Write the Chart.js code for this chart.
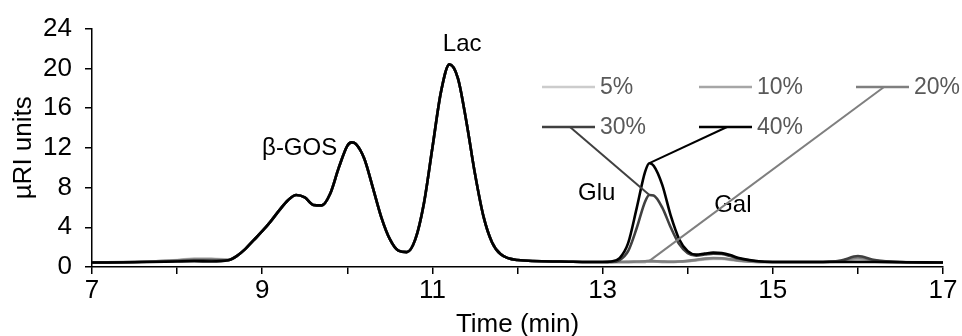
<!DOCTYPE html>
<html>
<head>
<meta charset="utf-8">
<script src="https://cdn.jsdelivr.net/npm/chart.js@4/dist/chart.umd.min.js"></script>
<style>
  html, body { margin: 0; padding: 0; background: #ffffff; }
  #wrap { width: 962px; height: 336px; }
</style>
</head>
<body>
<div id="wrap"><canvas id="chart" width="962" height="336"></canvas></div>
<script>
// Retention time grid (min)
const times = [
  7.0, 7.5, 8.0, 8.2, 8.4, 8.6, 8.7, 8.8, 8.9,
  9.0, 9.1, 9.2, 9.3, 9.4, 9.5, 9.6, 9.7, 9.8, 9.9,
  10.0, 10.05, 10.1, 10.2, 10.3, 10.4, 10.5, 10.6, 10.7, 10.8, 10.9,
  11.0, 11.1, 11.2, 11.3, 11.4, 11.5, 11.6, 11.7, 11.8, 12.0, 12.5,
  13.0, 13.1, 13.2, 13.3, 13.4, 13.5, 13.55, 13.6, 13.7, 13.8, 13.9,
  14.0, 14.1, 14.2, 14.3, 14.4, 14.5, 14.6, 14.8, 15.0, 15.5, 15.8, 16.0, 16.2, 16.5, 17.0
];

// β-GOS and lactose region (9.0 – 12.5 min), common to every run
const gosLacRegion = [
  3.6, 4.6, 5.7, 6.7, 7.25, 7.0, 6.25, 6.2, 7.4, 10.0,
  12.2, 12.55, 12.4, 10.9, 8.0, 5.0, 2.8, 1.65, 1.5, 2.8, 6.4,
  12.0, 17.6, 20.4, 19.0, 14.6, 9.4, 5.1, 2.5, 1.3, 0.7, 0.55
];

// Early baseline (7.0 – 8.9 min) per run
const lead5  = [0.45, 0.50, 0.70, 0.85, 0.85, 0.75, 1.1, 1.8, 2.7];
const lead10 = [0.45, 0.50, 0.68, 0.80, 0.80, 0.72, 1.1, 1.8, 2.7];
const lead20 = [0.45, 0.50, 0.65, 0.75, 0.74, 0.70, 1.1, 1.8, 2.7];
const lead30 = [0.45, 0.50, 0.60, 0.68, 0.66, 0.68, 1.1, 1.8, 2.7];
const lead40 = [0.45, 0.48, 0.55, 0.58, 0.56, 0.68, 1.1, 1.8, 2.7];

// Glucose / galactose region and tail (13.0 – 17.0 min) per run
const tail5  = [0.5, 0.5, 0.5, 0.5, 0.5, 0.52, 0.53, 0.53, 0.52, 0.52, 0.54,
                0.58, 0.66, 0.76, 0.82, 0.80, 0.72, 0.62, 0.52, 0.5, 0.5, 0.55, 0.70, 0.56, 0.5, 0.45];
const tail10 = [0.5, 0.5, 0.5, 0.5, 0.5, 0.52, 0.53, 0.53, 0.52, 0.52, 0.55,
                0.60, 0.70, 0.80, 0.86, 0.85, 0.76, 0.64, 0.52, 0.5, 0.5, 0.58, 0.80, 0.60, 0.5, 0.45];
const tail20 = [0.5, 0.5, 0.5, 0.52, 0.55, 0.58, 0.62, 0.60, 0.56, 0.53, 0.55,
                0.62, 0.72, 0.84, 0.90, 0.88, 0.78, 0.66, 0.53, 0.5, 0.5, 0.60, 0.95, 0.65, 0.5, 0.45];
const tail30 = [0.5, 0.5, 0.7, 1.6, 3.9, 6.6, 7.25, 7.2, 6.0, 4.0, 2.3,
                1.4, 1.15, 1.25, 1.35, 1.3, 1.1, 0.85, 0.6, 0.5, 0.5, 0.65, 1.10, 0.70, 0.5, 0.45];
const tail40 = [0.5, 0.55, 0.9, 2.4, 5.9, 9.6, 10.45, 10.2, 8.3, 5.2, 2.8,
                1.6, 1.25, 1.35, 1.45, 1.4, 1.2, 0.9, 0.6, 0.5, 0.5, 0.5, 0.5, 0.5, 0.48, 0.45];

const seriesNames = ['5%', '10%', '20%', '30%', '40%'];
const seriesColors = ['#cccccc', '#a6a6a6', '#7f7f7f', '#404040', '#000000'];
const seriesValues = [
  [...lead5,  ...gosLacRegion, ...tail5],
  [...lead10, ...gosLacRegion, ...tail10],
  [...lead20, ...gosLacRegion, ...tail20],
  [...lead30, ...gosLacRegion, ...tail30],
  [...lead40, ...gosLacRegion, ...tail40]
];

// Axis ticks
const xMin = 7, xMax = 17, xStep = 1;
const yMin = 0, yMax = 24, yStep = 4;

// Peak names
const peakNames = ['β-GOS', 'Lac', 'Glu', 'Gal'];

// Time at which the leader lines meet the glucose peak
const leaderTime = 13.55;

const FONT = 'Arial, "Liberation Sans", Helvetica, sans-serif';
const AXIS_FS = 26;
const LABEL_FS = 24;
const LEGEND_FS = 23;

// Legend entries with leader lines, and peak names
const overlay = {
  id: 'overlay',
  afterDatasetsDraw(chart) {
    const { ctx, scales: { x, y } } = chart;
    ctx.save();

    // peak names (anchored in data units)
    const peakPos = [[9.44, 11.9], [11.35, 22.4], [12.93, 7.4], [14.53, 6.2]];
    ctx.font = LABEL_FS + 'px ' + FONT;
    ctx.fillStyle = '#000';
    ctx.textAlign = 'center';
    ctx.textBaseline = 'middle';
    peakNames.forEach((n, i) => {
      ctx.fillText(n, x.getPixelForValue(peakPos[i][0]), y.getPixelForValue(peakPos[i][1]));
    });

    // legend: 3 columns x 2 rows
    const colX = [542, 699, 856];
    const rowY = [87, 127];
    const lineLen = 53;
    const leaderIdx = times.indexOf(leaderTime);
    ctx.font = LEGEND_FS + 'px ' + FONT;
    ctx.textAlign = 'left';
    ctx.lineCap = 'butt';
    seriesNames.forEach((name, i) => {
      const cx = colX[i % 3], cy = rowY[Math.floor(i / 3)];
      ctx.strokeStyle = seriesColors[i];
      ctx.lineWidth = 2.5;
      ctx.beginPath();
      ctx.moveTo(cx, cy);
      ctx.lineTo(cx + lineLen, cy);
      ctx.stroke();
      if (i >= 2) {
        const tx = x.getPixelForValue(leaderTime);
        const ty = y.getPixelForValue(seriesValues[i][leaderIdx]);
        ctx.lineWidth = 2;
        ctx.beginPath();
        ctx.moveTo(cx + 28, cy);
        ctx.lineTo(tx, ty);
        ctx.stroke();
      }
      ctx.fillStyle = '#595959';
      ctx.fillText(name, cx + lineLen + 5, cy + 1);
    });
    ctx.restore();
  }
};

const axisCommon = {
  grid: { drawOnChartArea: false, drawTicks: true, tickLength: 7, color: '#000', lineWidth: 1.5 },
  border: { display: true, color: '#000', width: 1.5 }
};

new Chart(document.getElementById('chart').getContext('2d'), {
  type: 'line',
  data: {
    datasets: seriesNames.map((name, i) => ({
      label: name,
      data: times.map((t, j) => ({ x: t, y: seriesValues[i][j] })),
      borderColor: seriesColors[i],
      borderWidth: 2.6,
      pointRadius: 0,
      fill: false,
      cubicInterpolationMode: 'monotone',
      order: seriesNames.length - 1 - i
    }))
  },
  options: {
    responsive: false,
    animation: false,
    devicePixelRatio: 1,
    layout: { padding: { top: 27, right: 19, left: 0, bottom: 0 } },
    plugins: { legend: { display: false }, tooltip: { enabled: false } },
    scales: {
      x: {
        type: 'linear', min: xMin, max: xMax,
        ticks: {
          stepSize: xStep, autoSkip: false, maxRotation: 0, padding: 1, color: '#000',
          font: { family: FONT, size: AXIS_FS },
          callback: v => (Math.round(v) % 2 === 1 ? String(v) : '')
        },
        ...axisCommon,
        title: { display: true, text: 'Time (min)', color: '#000', font: { family: FONT, size: AXIS_FS }, padding: { top: 0, bottom: -4 } },
        afterFit(s) { s.height = 69; }
      },
      y: {
        min: yMin, max: yMax,
        ticks: { stepSize: yStep, padding: 13, color: '#000', font: { family: FONT, size: AXIS_FS } },
        ...axisCommon,
        title: { display: true, text: 'µRI units', color: '#000', font: { family: FONT, size: AXIS_FS }, padding: { top: 8, bottom: 0 } },
        afterFit(s) { s.width = 92; }
      }
    }
  },
  plugins: [overlay]
});
</script>
</body>
</html>
